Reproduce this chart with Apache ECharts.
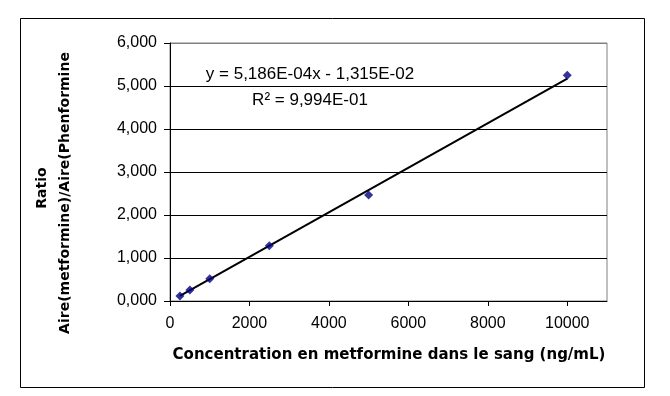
<!DOCTYPE html>
<html>
<head>
<meta charset="utf-8">
<script src="https://cdn.jsdelivr.net/npm/echarts@6/dist/echarts.min.js"></script>
<style>
html,body{margin:0;padding:0;background:#fff;}
#chart{width:670px;height:396px;}
</style>
</head>
<body>
<div id="chart"></div>
<script>
// ---- data ----
var concentrations = [250, 500, 1000, 2500, 5000, 10000];
var ratios = [0.116, 0.256, 0.519, 1.286, 2.465, 5.249];
var trendSlope = 5.186e-4;
var trendIntercept = -1.315e-2;
var xTickValues = [0, 2000, 4000, 6000, 8000, 10000];
var yTickLabels = ['0,000', '1,000', '2,000', '3,000', '4,000', '5,000', '6,000'];
var xTitle = 'Concentration en metformine dans le sang (ng/mL)';
var yTitleLine1 = 'Ratio';
var yTitleLine2 = 'Aire(metformine)/Aire(Phenformine';
var equationText = 'y = 5,186E-04x - 1,315E-02';
var r2Text = 'R\u00B2 = 9,994E-01';

var points = concentrations.map(function (c, i) { return [c, ratios[i]]; });
var xFirst = concentrations[0], xLast = concentrations[concentrations.length - 1];
var trendPoints = [[xFirst, trendSlope * xFirst + trendIntercept], [xLast, trendSlope * xLast + trendIntercept]];

var chart = echarts.init(document.getElementById('chart'), null, {renderer: 'canvas'});
var labelFont = 'Liberation Sans, Arial, sans-serif';
var titleFont = 'DejaVu Sans, sans-serif';

chart.setOption({
  backgroundColor: '#ffffff',
  animation: false,
  grid: {
    left: 170, top: 43, width: 437, height: 258,
    show: true, borderColor: '#808080', borderWidth: 1, backgroundColor: '#ffffff'
  },
  xAxis: {
    type: 'value', min: 0, max: 11000, interval: 1000,
    axisLine: {show: true, lineStyle: {color: '#000', width: 1}},
    axisTick: {show: true, inside: false, length: 5, lineStyle: {color: '#000'}, customValues: xTickValues},
    axisLabel: {
      customValues: xTickValues, color: '#000', fontSize: 16, fontFamily: labelFont, margin: 15,
      formatter: function (v) { return String(v); }
    },
    splitLine: {show: false}
  },
  yAxis: {
    type: 'value', min: 0, max: 6, interval: 1,
    axisLine: {show: true, lineStyle: {color: '#000', width: 1}},
    axisTick: {show: true, inside: false, length: 6, lineStyle: {color: '#000'}},
    axisLabel: {
      color: '#000', fontSize: 16, fontFamily: labelFont, margin: 13,
      formatter: function (v) { return yTickLabels[Math.round(v)]; }
    },
    splitLine: {show: true, lineStyle: {color: ['#000', '#000', '#000', '#000', '#000', '#000', '#808080'], width: 1}}
  },
  series: [
    {
      type: 'line', data: trendPoints, symbol: 'none', z: 2,
      lineStyle: {color: '#000', width: 2}
    },
    {
      type: 'scatter', data: points, symbol: 'diamond', symbolSize: [9, 9], z: 3,
      itemStyle: {color: '#000080'}
    }
  ],
  graphic: [
    {type: 'rect', shape: {x: 20.5, y: 18.5, width: 624, height: 369}, style: {fill: 'none', stroke: '#000', lineWidth: 1}, silent: true},
    {type: 'text', x: 310, y: 74, style: {text: equationText, font: '17px ' + labelFont, fill: '#000', align: 'center', verticalAlign: 'middle'}},
    {type: 'text', x: 310, y: 100, style: {text: r2Text, font: '17px ' + labelFont, fill: '#000', align: 'center', verticalAlign: 'middle'}},
    {type: 'text', x: 389, y: 355, style: {text: xTitle, font: 'bold 15px ' + titleFont, fill: '#000', align: 'center', verticalAlign: 'middle'}},
    {type: 'text', x: 42, y: 188, rotation: Math.PI / 2, style: {text: yTitleLine1, font: 'bold 14px ' + titleFont, fill: '#000', align: 'center', verticalAlign: 'middle'}},
    {type: 'text', x: 65, y: 193, rotation: Math.PI / 2, style: {text: yTitleLine2, font: 'bold 14px ' + titleFont, fill: '#000', align: 'center', verticalAlign: 'middle'}}
  ]
});
</script>
</body>
</html>
